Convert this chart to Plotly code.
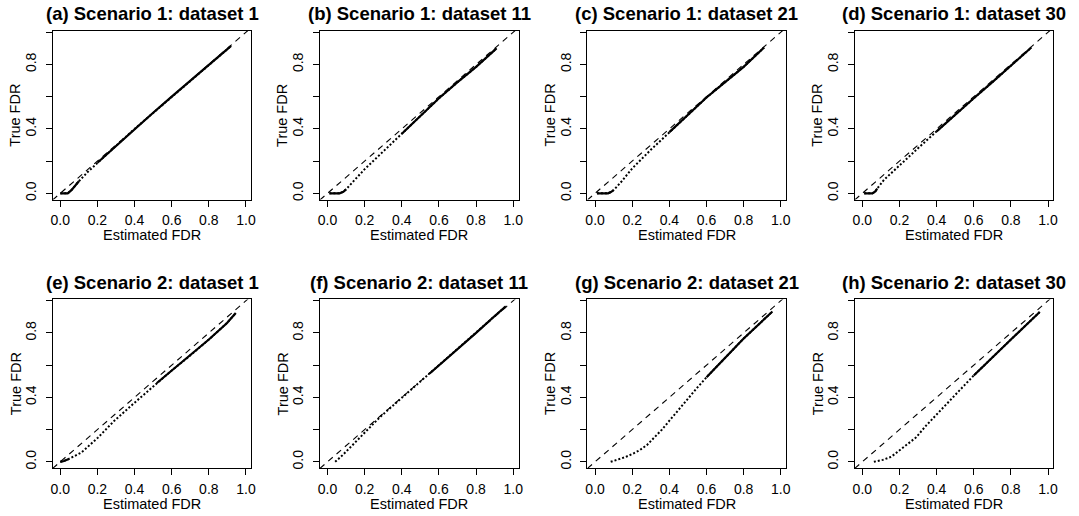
import plotly.graph_objects as go

# Panel titles
titles = [
    "(a) Scenario 1: dataset 1", "(b) Scenario 1: dataset 11",
    "(c) Scenario 1: dataset 21", "(d) Scenario 1: dataset 30",
    "(e) Scenario 2: dataset 1", "(f) Scenario 2: dataset 11",
    "(g) Scenario 2: dataset 21", "(h) Scenario 2: dataset 30",
]

# Estimated vs true FDR, one pair of lists per panel
a_est  = [0.00, 0.04, 0.06, 0.10, 0.15, 0.20, 0.30, 0.40, 0.50, 0.60, 0.70, 0.80, 0.88, 0.92]
a_true = [0.00, 0.00, 0.02, 0.075, 0.135, 0.19, 0.295, 0.40, 0.50, 0.60, 0.70, 0.795, 0.875, 0.915]

b_est  = [0.01, 0.035, 0.065, 0.085, 0.10, 0.146, 0.20, 0.30, 0.40, 0.50, 0.60, 0.70, 0.80, 0.91]
b_true = [0.00, 0.00, 0.00, 0.01, 0.025, 0.083, 0.15, 0.26, 0.37, 0.48, 0.59, 0.69, 0.785, 0.90]

c_est  = [0.01, 0.04, 0.07, 0.085, 0.10, 0.14, 0.20, 0.30, 0.40, 0.50, 0.60, 0.70, 0.80, 0.91]
c_true = [0.00, 0.00, 0.00, 0.008, 0.02, 0.07, 0.155, 0.27, 0.38, 0.49, 0.595, 0.69, 0.785, 0.905]

d_est  = [0.01, 0.03, 0.054, 0.07, 0.08, 0.116, 0.20, 0.30, 0.40, 0.50, 0.60, 0.70, 0.80, 0.91]
d_true = [0.00, 0.00, 0.00, 0.012, 0.03, 0.083, 0.175, 0.28, 0.385, 0.49, 0.59, 0.69, 0.79, 0.905]

e_est  = [0.00, 0.02, 0.043, 0.114, 0.203, 0.29, 0.40, 0.52, 0.60, 0.684, 0.80, 0.898, 0.945]
e_true = [0.00, 0.005, 0.016, 0.058, 0.15, 0.254, 0.367, 0.489, 0.567, 0.645, 0.759, 0.862, 0.924]

f_est  = [0.041, 0.077, 0.139, 0.21, 0.28, 0.37, 0.46, 0.55, 0.60, 0.70, 0.80, 0.90, 0.96]
f_true = [0.00, 0.037, 0.109, 0.19, 0.275, 0.367, 0.458, 0.548, 0.598, 0.698, 0.80, 0.905, 0.965]

g_est  = [0.084, 0.12, 0.16, 0.20, 0.24, 0.28, 0.32, 0.36, 0.40, 0.45, 0.50, 0.55, 0.60, 0.70, 0.80, 0.955]
g_true = [0.00, 0.012, 0.028, 0.048, 0.072, 0.105, 0.15, 0.20, 0.255, 0.325, 0.395, 0.46, 0.525, 0.642, 0.765, 0.933]

h_est  = [0.062, 0.11, 0.155, 0.19, 0.235, 0.288, 0.342, 0.40, 0.466, 0.537, 0.60, 0.70, 0.80, 0.955]
h_true = [0.00, 0.012, 0.031, 0.062, 0.099, 0.15, 0.223, 0.295, 0.377, 0.46, 0.536, 0.65, 0.759, 0.93]

# Ranges of estimated FDR where the points are packed into a continuous band
a_dense = [(0.00, 0.10), (0.20, 0.92)]
b_dense = [(0.01, 0.10), (0.40, 0.91)]
c_dense = [(0.01, 0.10), (0.40, 0.91)]
d_dense = [(0.01, 0.08), (0.40, 0.91)]
e_dense = [(0.00, 0.043), (0.52, 0.945)]
f_dense = [(0.55, 0.96)]
g_dense = [(0.60, 0.955)]
h_dense = [(0.60, 0.955)]

# Axis ticks
x_ticks = [0.0, 0.2, 0.4, 0.6, 0.8, 1.0]
x_ticklabels = ["0.0", "0.2", "0.4", "0.6", "0.8", "1.0"]
y_ticks = [0.0, 0.2, 0.4, 0.6, 0.8, 1.0]
y_ticklabels = ["0.0", "", "0.4", "", "0.8", ""]

panels = [
    (a_est, a_true, a_dense), (b_est, b_true, b_dense),
    (c_est, c_true, c_dense), (d_est, d_true, d_dense),
    (e_est, e_true, e_dense), (f_est, f_true, f_dense),
    (g_est, g_true, g_dense), (h_est, h_true, h_dense),
]

W, H = 1079, 516
X_RANGE = [-0.041, 1.029]
Y_RANGE = [-0.039, 1.008]
COL_LEFT = [51, 320, 589.3, 858.3]
BOX_W = 200
ROW_TOP = [31, 300]
BOX_H = 169

FONT = "Liberation Sans, Arial, Helvetica, sans-serif"
TICK_SIZE = 14
LABEL_SIZE = 14.5
TITLE_SIZE = 18.5

fig = go.Figure()
annotations = []
layout_axes = {}

for k, (est, tru, dense) in enumerate(panels):
    r, c = divmod(k, 4)
    xname = "x" if k == 0 else f"x{k + 1}"
    yname = "y" if k == 0 else f"y{k + 1}"
    left = COL_LEFT[c]
    top = ROW_TOP[r]

    # y = x reference
    fig.add_trace(go.Scatter(
        x=X_RANGE, y=X_RANGE, mode="lines", xaxis=xname, yaxis=yname,
        line=dict(color="black", width=1.1, dash="6px,5px"),
        hoverinfo="skip", showlegend=False,
    ))
    # sparse points along the curve
    fig.add_trace(go.Scatter(
        x=est, y=tru, mode="lines", xaxis=xname, yaxis=yname,
        line=dict(color="black", width=2, dash="2px,2px"),
        showlegend=False,
    ))
    # dense band
    for lo, hi in dense:
        idx = [i for i, v in enumerate(est) if lo - 1e-9 <= v <= hi + 1e-9]
        fig.add_trace(go.Scatter(
            x=[est[i] for i in idx], y=[tru[i] for i in idx],
            mode="lines", xaxis=xname, yaxis=yname,
            line=dict(color="black", width=2.2),
            showlegend=False,
        ))

    xkey = "xaxis" if k == 0 else f"xaxis{k + 1}"
    ykey = "yaxis" if k == 0 else f"yaxis{k + 1}"
    layout_axes[xkey] = dict(
        domain=[left / W, (left + BOX_W) / W], range=X_RANGE, anchor=yname,
        tickvals=x_ticks, ticktext=x_ticklabels, ticks="outside", ticklen=6,
        tickwidth=1, tickcolor="black", showline=True, linecolor="black",
        linewidth=1, mirror=True, showgrid=False, zeroline=False,
        ticklabelstandoff=2,
        tickfont=dict(family=FONT, size=TICK_SIZE, color="black"),
        fixedrange=True,
    )
    layout_axes[ykey] = dict(
        domain=[1 - (top + BOX_H) / H, 1 - top / H], range=Y_RANGE, anchor=xname,
        tickvals=y_ticks, ticktext=y_ticklabels, ticks="outside", ticklen=6,
        tickwidth=1, tickcolor="black", showline=True, linecolor="black",
        linewidth=1, mirror=True, showgrid=False, zeroline=False,
        tickangle=-90, ticklabelstandoff=4,
        tickfont=dict(family=FONT, size=TICK_SIZE, color="black"),
        fixedrange=True,
    )

    cx = (left + BOX_W / 2) / W
    # panel title
    annotations.append(dict(
        text=f"<b>{titles[k]}</b>", xref="paper", yref="paper",
        x=cx, y=1 - (top - 17) / H, xanchor="center", yanchor="middle",
        showarrow=False, font=dict(family=FONT, size=TITLE_SIZE, color="black"),
    ))
    # x-axis title
    annotations.append(dict(
        text="Estimated FDR", xref="paper", yref="paper",
        x=cx, y=1 - (top + 204.5) / H, xanchor="center", yanchor="middle",
        showarrow=False, font=dict(family=FONT, size=LABEL_SIZE, color="black"),
    ))
    # y-axis title
    annotations.append(dict(
        text="True FDR", xref="paper", yref="paper", textangle=-90,
        x=(left - 37.5) / W, y=1 - (top + BOX_H / 2) / H,
        xanchor="center", yanchor="middle",
        showarrow=False, font=dict(family=FONT, size=LABEL_SIZE, color="black"),
    ))

fig.update_layout(
    width=W, height=H, margin=dict(l=0, r=0, t=0, b=0),
    paper_bgcolor="white", plot_bgcolor="white",
    showlegend=False, annotations=annotations, **layout_axes,
)

fig.write_html("out.html")
